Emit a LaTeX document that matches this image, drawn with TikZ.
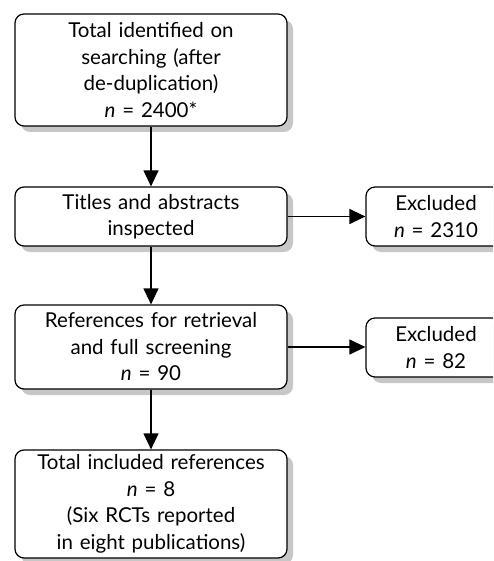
\documentclass[tikz,border=0pt]{standalone}
\usepackage{fontspec}
\setmainfont{Lato}
\usetikzlibrary{arrows.meta}
\tikzset{
  box/.style={draw, line width=1.2pt, rounded corners=9pt, fill=white, align=center,
    inner sep=2pt, font=\fontsize{20.5}{26.5}\selectfont,
    preaction={draw=none, fill=black!22, transform canvas={xshift=6pt, yshift=-6pt}}},
  mainbox/.style={box, text width=268pt, minimum height=#1},
  exclbox/.style={box, text width=136pt, minimum height=59pt},
  flow/.style={line width=1.2pt, -{Triangle[length=16pt, width=15pt]}}
}
\begin{document}
\begin{tikzpicture}[x=1pt, y=-1pt]
    \useasboundingbox (0,0) rectangle (493,561);
    \clip (0,0) rectangle (493,561);
    % main column
    \node[mainbox=112pt] (ident) at (151,70) {Total identified on\\searching (after\\de-duplication)\\\textit{n} = 2400*};
    \node[mainbox=59pt] (titles) at (151,216.5) {Titles and abstracts\\inspected};
    \node[mainbox=84pt] (refs) at (151,347) {References for retrieval\\and full screening\\\textit{n} = 90};
    \node[mainbox=108pt] (incl) at (151,504) {Total included references\\\textit{n} = 8\\(Six RCTs reported\\in eight publications)};
    % exclusions
    \node[exclbox] (excl1) at (436,216.5) {Excluded\\\textit{n} = 2310};
    \node[exclbox] (excl2) at (436,347.5) {Excluded\\\textit{n} = 82};
    % arrows
    \draw[flow] (ident) -- (titles);
    \draw[flow] (titles) -- (refs);
    \draw[flow] (refs) -- (incl);
    \draw[flow] (titles) -- (excl1);
    \draw[flow] (refs.east) -- (excl2.west |- refs.east);
\end{tikzpicture}
\end{document}
